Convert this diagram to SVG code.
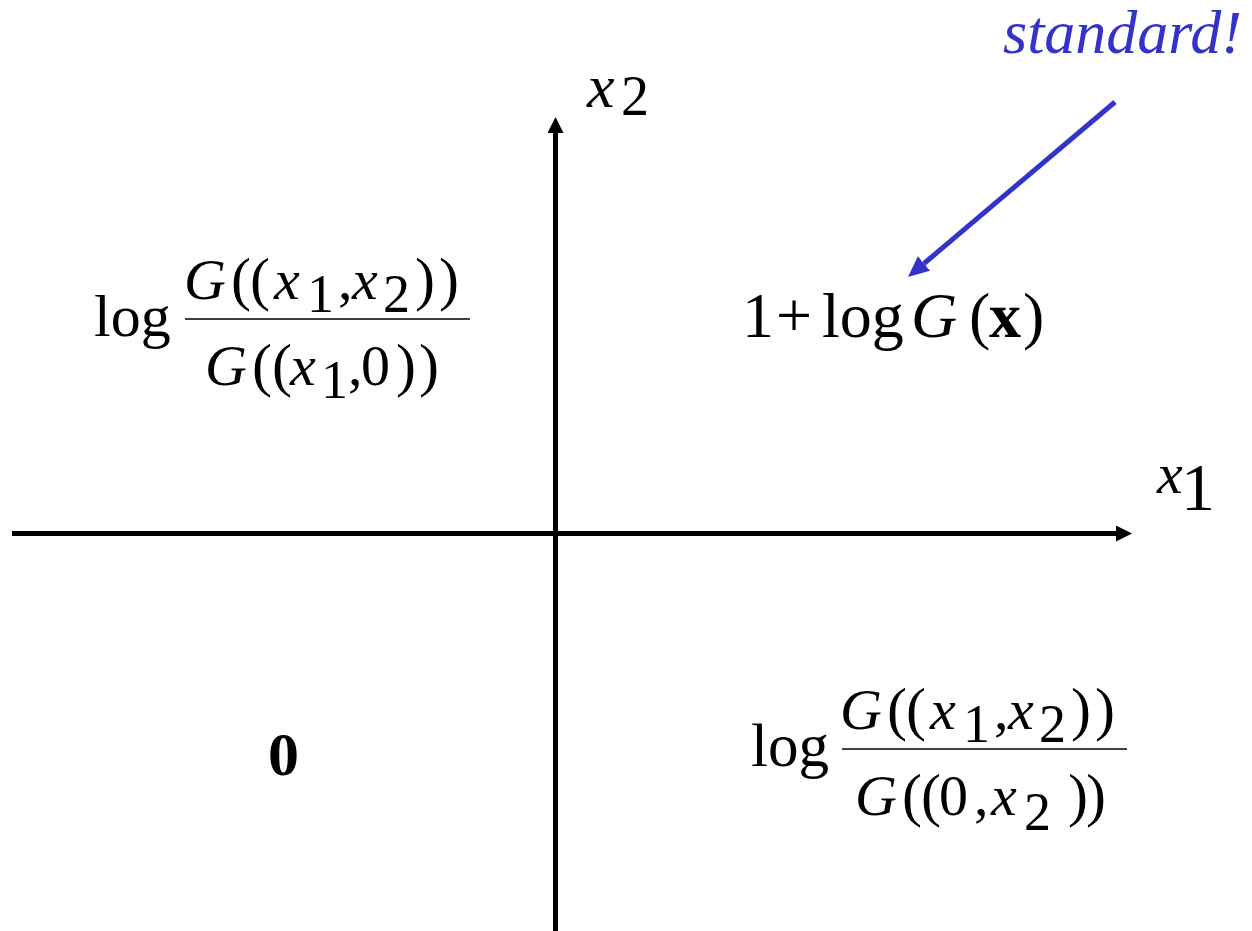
<svg xmlns="http://www.w3.org/2000/svg" width="1252" height="931" viewBox="0 0 1252 931">
<defs>
<style>
text{font-family:"Liberation Serif","Times New Roman",serif;fill:#000}
.i{font-style:italic}
.b{font-weight:bold}
.f{font-size:58px}
.p{font-size:60px}
.s{font-size:54px}
.axis{stroke:#000;stroke-width:5;fill:none}
.frac{stroke:#000;stroke-width:1.6}
.blue{stroke:#3333CC;stroke-width:5;fill:none}
</style>
<marker id="ah" markerUnits="userSpaceOnUse" markerWidth="17" markerHeight="17" refX="0" refY="8" orient="auto" viewBox="0 0 17 17">
<path d="M0,0 L16,8 L0,16 z" fill="#000"/>
</marker>
<marker id="bh" markerUnits="userSpaceOnUse" markerWidth="22" markerHeight="20" refX="0" refY="9.5" orient="auto" viewBox="0 0 22 20">
<path d="M0,0 L21,9.5 L0,19 z" fill="#3333CC"/>
</marker>
</defs>
<rect width="1252" height="931" fill="#fff"/>
<g id="connectors">
<line class="blue" x1="1115" y1="102" x2="924" y2="263.5" marker-end="url(#bh)"/>
<line class="axis" x1="12" y1="533.5" x2="1116" y2="533.5" marker-end="url(#ah)"/>
<line class="axis" x1="555.5" y1="931" x2="555.5" y2="133" marker-end="url(#ah)"/>
</g>
<g id="label-x2">
<text class="i" x="587" y="107" font-size="62">x</text>
<text x="621" y="115" font-size="56">2</text>
</g>
<g id="label-x1">
<text class="i" x="1157" y="493" font-size="58">x</text>
<text x="1181" y="510" font-size="68">1</text>
</g>
<g id="standard">
<text class="i" x="1003" y="53" font-size="62" style="fill:#3333CC">standard!</text>
</g>
<g id="q1">
<text x="742" y="337" font-size="64">1</text>
<text x="776" y="337" font-size="64">+</text>
<text x="822" y="337" font-size="64">log</text>
<text class="i" x="911" y="337" font-size="64">G</text>
<text x="969" y="337" font-size="64">(</text>
<text class="b" x="989" y="337" font-size="64">x</text>
<text x="1023" y="337" font-size="64">)</text>
</g>
<g id="q2">
<text x="94" y="336" font-size="60">log</text>
<line class="frac" x1="185" y1="319" x2="470" y2="319"/>
<text class="i f" x="184" y="299">G</text>
<text class="p" x="231" y="299">(</text>
<text class="p" x="250" y="299">(</text>
<text class="i f" x="274" y="299">x</text>
<text class="s" x="307" y="312">1</text>
<text class="f" x="338" y="299">,</text>
<text class="i f" x="352" y="299">x</text>
<text class="s" x="383" y="312">2</text>
<text class="p" x="415" y="299">)</text>
<text class="p" x="439" y="299">)</text>
<text class="i f" x="205" y="385">G</text>
<text class="p" x="252" y="385">(</text>
<text class="p" x="272" y="385">(</text>
<text class="i f" x="290" y="385">x</text>
<text class="s" x="321" y="398">1</text>
<text class="f" x="348" y="385">,</text>
<text class="f" x="361" y="385">0</text>
<text class="p" x="396" y="385">)</text>
<text class="p" x="419" y="385">)</text>
</g>
<g id="q3">
<text class="b" x="268" y="775" font-size="62">0</text>
</g>
<g id="q4">
<text x="751" y="766" font-size="61">log</text>
<line class="frac" x1="842" y1="749" x2="1127" y2="749"/>
<text class="i f" x="840" y="729">G</text>
<text class="p" x="887" y="729">(</text>
<text class="p" x="906" y="729">(</text>
<text class="i f" x="930" y="729">x</text>
<text class="s" x="963" y="742">1</text>
<text class="f" x="994" y="729">,</text>
<text class="i f" x="1008" y="729">x</text>
<text class="s" x="1039" y="742">2</text>
<text class="p" x="1071" y="729">)</text>
<text class="p" x="1095" y="729">)</text>
<text class="i f" x="855" y="815">G</text>
<text class="p" x="902" y="815">(</text>
<text class="p" x="921" y="815">(</text>
<text class="f" x="939" y="815">0</text>
<text class="f" x="974" y="815">,</text>
<text class="i f" x="991" y="815">x</text>
<text class="s" x="1024" y="830">2</text>
<text class="p" x="1068" y="815">)</text>
<text class="p" x="1086" y="815">)</text>
</g>
</svg>
